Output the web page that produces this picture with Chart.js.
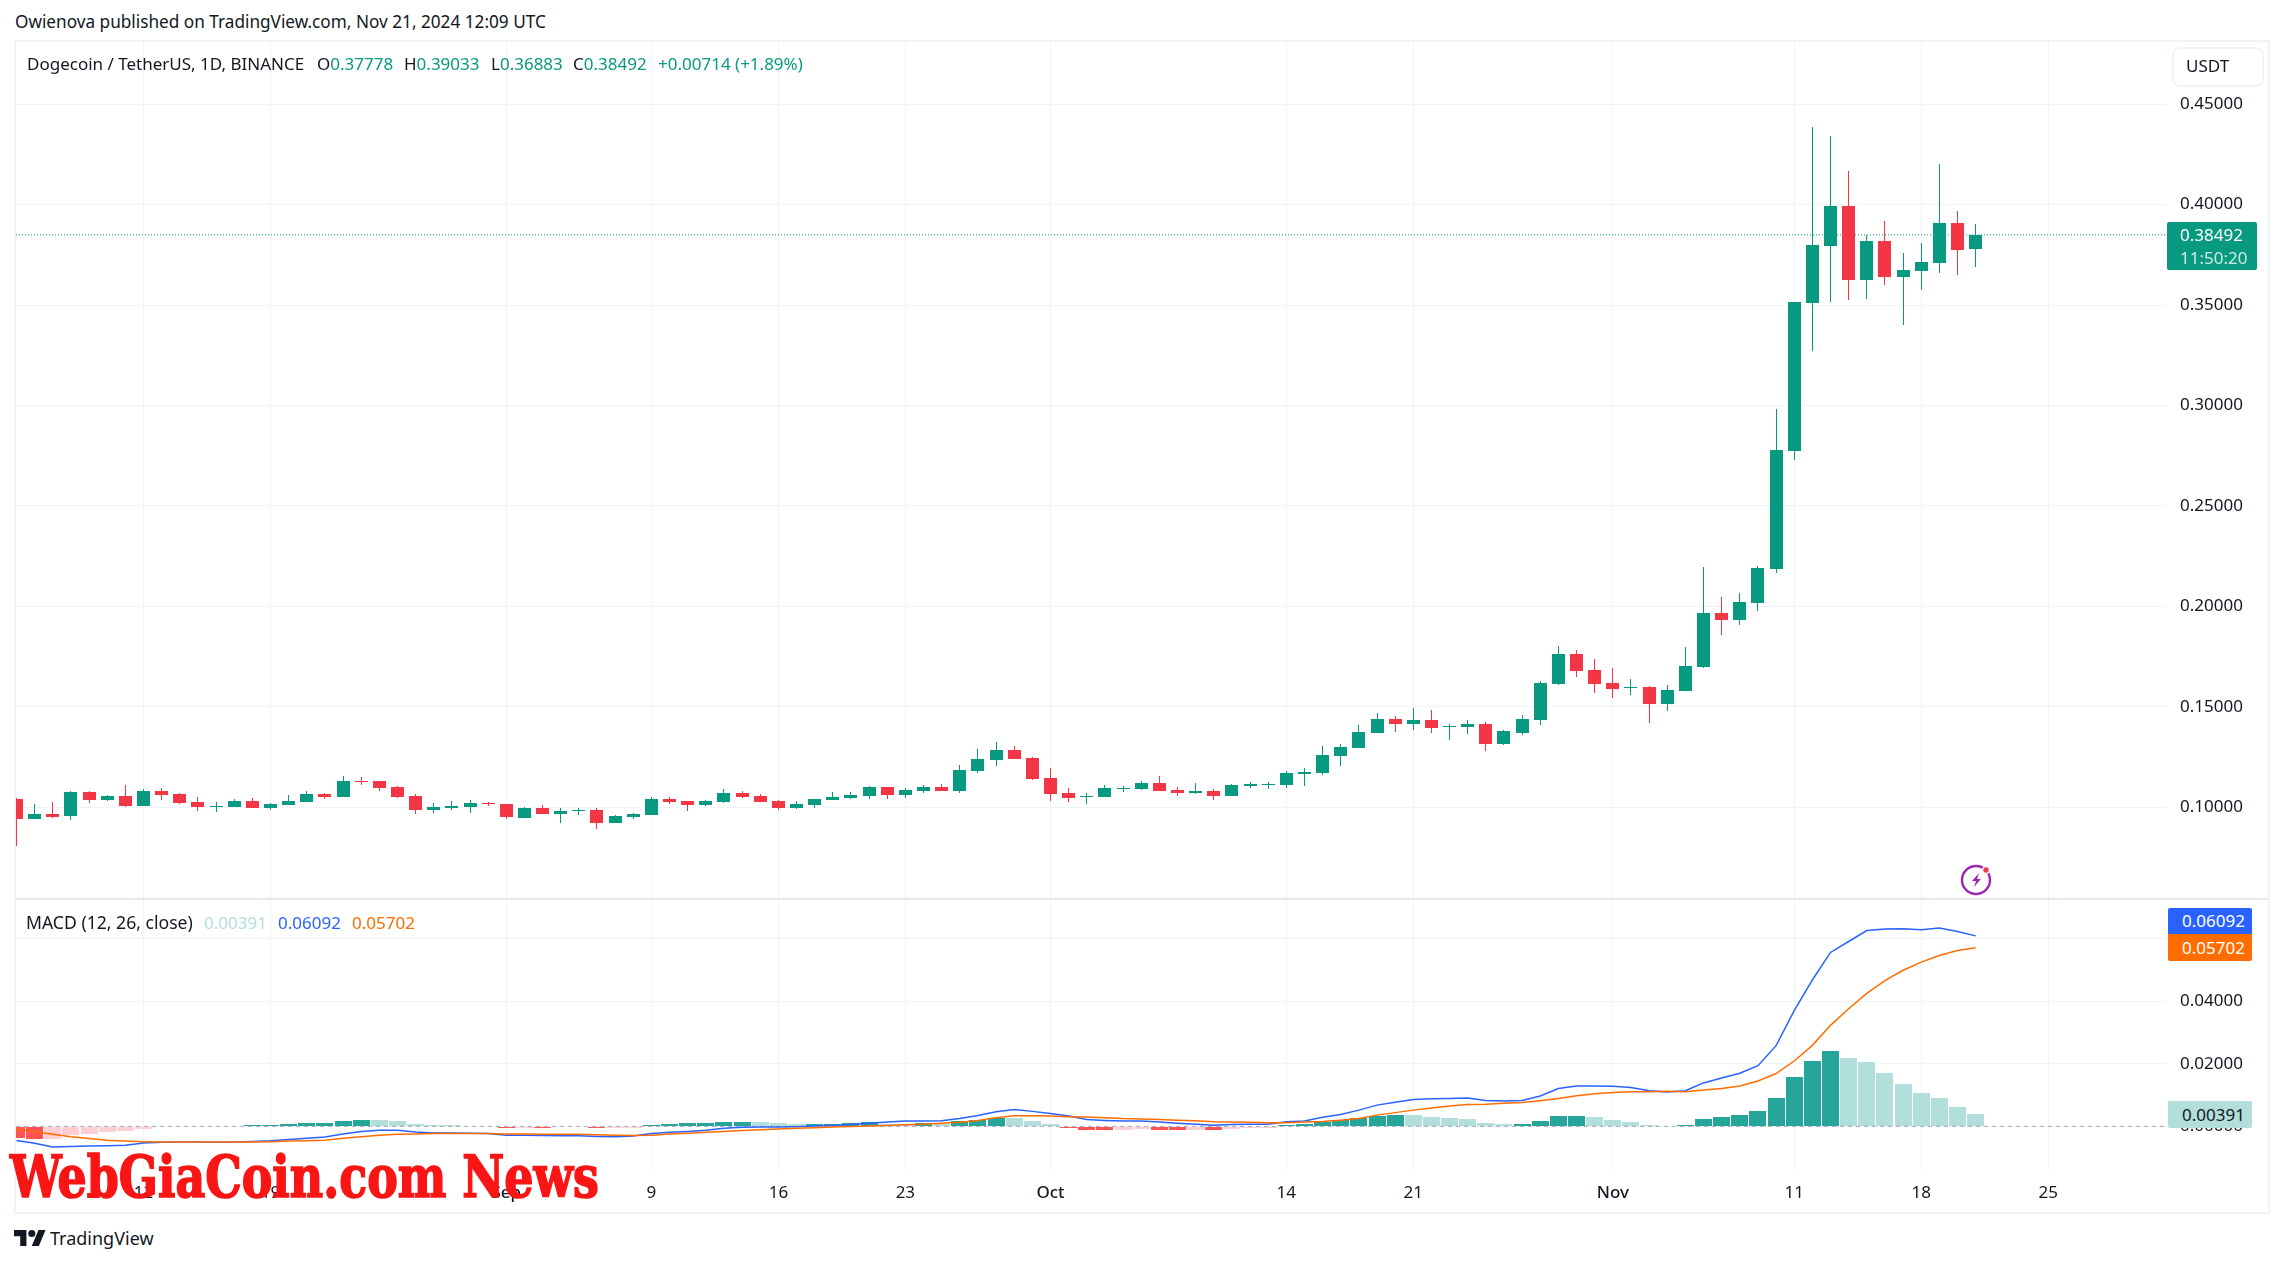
<!DOCTYPE html>
<html>
<head>
<meta charset="utf-8">
<title>DOGE/USDT</title>
<script src="https://cdn.jsdelivr.net/npm/chart.js@4/dist/chart.umd.js"></script>
<style>
  html, body { margin: 0; background: #fff; }
  body { width: 2283px; height: 1265px; position: relative; overflow: hidden; font-family: "Noto Sans", sans-serif; color: #131722; }
  canvas { position: absolute; left: 16px; }
  .abs { position: absolute; white-space: nowrap; line-height: 1; }
  #frame { position: absolute; left: 14px; top: 40px; width: 2252px; height: 1170px; border: 2px solid #f0f3fa; }
  #split { position: absolute; left: 16px; top: 898px; width: 2252px; height: 2px; background: #e6e8ee; }
  .badge { position: absolute; left: 2168px; width: 84px; color: #fff; font-size: 17px; text-align: right; box-sizing: border-box; padding-right: 7px; }
  .green { color: #089981; }
</style>
</head>
<body>
<canvas id="priceChart" width="2251" height="857" style="top:41px"></canvas>
<canvas id="macdChart" width="2251" height="312" style="top:900px"></canvas>
<div id="frame"></div>
<div id="split"></div>

<div class="abs" style="left:15px;top:13px;font-size:17.2px">Owienova published on TradingView.com, Nov 21, 2024 12:09 UTC</div>
<div class="abs" style="left:27px;top:55px;font-size:17px">Dogecoin / TetherUS, 1D, BINANCE</div>
<div class="abs" style="left:317px;top:55px;font-size:17px">O<span class="green">0.37778</span></div>
<div class="abs" style="left:404px;top:55px;font-size:17px">H<span class="green">0.39033</span></div>
<div class="abs" style="left:491px;top:55px;font-size:17px">L<span class="green">0.36883</span></div>
<div class="abs" style="left:573px;top:55px;font-size:17px">C<span class="green">0.38492</span></div>
<div class="abs green" style="left:658px;top:55px;font-size:17px">+0.00714 (+1.89%)</div>

<div class="abs" style="left:2172px;top:47px;width:88px;height:36px;border:2px solid #f0f3fa;border-radius:8px"></div>
<div class="abs" style="left:2186px;top:57px;font-size:17px">USDT</div>

<div class="abs" style="left:2167px;top:222px;width:90px;height:48px;background:#089981;border-radius:2px"></div>
<div class="abs" style="left:2180px;top:226px;font-size:17px;color:#fff">0.38492</div>
<div class="abs" style="left:2180px;top:249px;font-size:17px;color:#cfeae5">11:50:20</div>

<div class="abs" style="left:26px;top:914px;font-size:17.6px">MACD (12, 26, close)</div>
<div class="abs" style="left:204px;top:914px;font-size:17px;color:#b2dfdb">0.00391</div>
<div class="abs" style="left:278px;top:914px;font-size:17px;color:#2962ff">0.06092</div>
<div class="abs" style="left:352px;top:914px;font-size:17px;color:#ff6d00">0.05702</div>

<div class="badge" style="top:908px;height:26px;line-height:26px;background:#2962ff;border-radius:2px 2px 0 0">0.06092</div>
<div class="badge" style="top:934px;height:27px;line-height:27px;background:#ff6d00;border-radius:0 0 2px 2px">0.05702</div>
<div class="badge" style="top:1101px;height:27px;line-height:27px;background:#b2dfdb;color:#131722;border-radius:2px">0.00391</div>

<svg class="abs" style="left:1960px;top:863px" width="34" height="34" viewBox="0 0 34 34">
  <circle cx="16" cy="17" r="14" fill="none" stroke="#9c27b0" stroke-width="2.4"/>
  <path d="M19 10l-7 8h4l-2 6 7-8h-4z" fill="#9c27b0"/>
  <circle cx="26" cy="7" r="3.4" fill="#f23645" stroke="#fff" stroke-width="1.4"/>
</svg>

<svg class="abs" style="left:14px;top:1230px" width="32" height="16" viewBox="0 4 36 18">
  <path d="M14 22H7V11H0V4h14v18zM28 22h-8l7.5-18h8L28 22z" fill="#131722"/>
  <circle cx="20" cy="8" r="4" fill="#131722"/>
</svg>
<div class="abs" style="left:50px;top:1229px;font-size:18px;color:#131722">TradingView</div>

<div class="abs" id="stamp" style="left:10px;top:1148px;font-family:'DejaVu Serif Condensed','DejaVu Serif',serif;font-weight:700;font-size:58px;color:#fa1515;-webkit-text-stroke:1.6px #fa1515;transform-origin:0 0;transform:scaleX(0.88)">WebGiaCoin.com News</div>

<script>
// daily candles, 2024-08-05 .. 2024-11-21, index 0 = Aug 5
const opens = [
  .1041,.0942,.0967,.0957,.1076,.1036,.1056,.1007,.1081,.1066,.1026,.1002,.1002,.1031,.0997,.1012,.1026,.1066,.1051,.1130,
  .1130,.1101,.1056,.0987,.0997,.1002,.1021,.1017,.0947,.0997,.0967,.0982,.0987,.0922,.0952,.0962,.1041,.1031,.1012,.1026,
  .1071,.1056,.1031,.0997,.1012,.1036,.1046,.1056,.1101,.1061,.1081,.1101,.1081,.1180,.1234,.1284,.1244,.1145,.1071,.1051,
  .1051,.1091,.1091,.1120,.1086,.1071,.1081,.1056,.1106,.1111,.1111,.1165,.1170,.1254,.1294,.1368,.1442,.1417,.1437,.1398,
  .1398,.1417,.1314,.1372,.1437,.1612,.1762,.1682,.1617,.1592,.1597,.1512,.1577,.1697,.1966,.1931,.2015,.2185,.2773,.3510,
  .3793,.3992,.3623,.3819,.3639,.3668,.3709,.3908,.37778]
const highs = [
  .1046,.1017,.1026,.1081,.1081,.1061,.1111,.1091,.1096,.1071,.1051,.1026,.1041,.1046,.1021,.1061,.1081,.1071,.1155,.1150,
  .1130,.1106,.1066,.1021,.1031,.1036,.1026,.1017,.1002,.1012,.0997,.0997,.0997,.0962,.0972,.1051,.1051,.1031,.1036,.1091,
  .1081,.1066,.1036,.1031,.1041,.1076,.1076,.1106,.1101,.1096,.1111,.1116,.1210,.1289,.1323,.1304,.1249,.1195,.1096,.1071,
  .1111,.1106,.1130,.1155,.1101,.1120,.1091,.1116,.1125,.1125,.1180,.1195,.1304,.1314,.1408,.1472,.1457,.1497,.1487,.1413,
  .1437,.1427,.1383,.1462,.1627,.1802,.1782,.1737,.1692,.1637,.1602,.1607,.1797,.2197,.2046,.2069,.2201,.2982,.3513,.4386,
  .4340,.4167,.3851,.3918,.3759,.3808,.4201,.3968,.39033]
const lows = [
  .0809,.0942,.0947,.0937,.1021,.1031,.1002,.1007,.1036,.1017,.0982,.0977,.1002,.0997,.0987,.1012,.1026,.1041,.1051,.1111,
  .1081,.1046,.0967,.0972,.0987,.0972,.1007,.0942,.0947,.0967,.0922,.0962,.0893,.0922,.0942,.0962,.1017,.0982,.1007,.1021,
  .1046,.1026,.0987,.0992,.0997,.1036,.1041,.1041,.1041,.1046,.1071,.1081,.1071,.1170,.1205,.1239,.1135,.1031,.1026,.1017,
  .1051,.1076,.1086,.1081,.1056,.1066,.1036,.1056,.1096,.1091,.1096,.1106,.1160,.1205,.1294,.1368,.1373,.1383,.1368,.1333,
  .1363,.1279,.1309,.1362,.1412,.1607,.1647,.1567,.1542,.1557,.1422,.1482,.1577,.1692,.1858,.1907,.1976,.2166,.2728,.3270,
  .3513,.3524,.3529,.3599,.3400,.3573,.3659,.3649,.36883]
const closes = [
  .0942,.0967,.0952,.1076,.1036,.1056,.1007,.1081,.1061,.1021,.1002,.1007,.1031,.0997,.1017,.1031,.1066,.1051,.1130,.1125,
  .1096,.1051,.0987,.1002,.1007,.1021,.1017,.0952,.0997,.0967,.0982,.0987,.0922,.0957,.0967,.1041,.1026,.1012,.1031,.1071,
  .1051,.1026,.0997,.1017,.1041,.1051,.1061,.1101,.1061,.1086,.1101,.1081,.1185,.1239,.1284,.1239,.1140,.1066,.1046,.1056,
  .1096,.1096,.1120,.1081,.1071,.1081,.1056,.1111,.1116,.1116,.1170,.1175,.1259,.1299,.1373,.1442,.1417,.1437,.1393,.1403,
  .1417,.1314,.1378,.1442,.1617,.1762,.1677,.1612,.1587,.1597,.1512,.1582,.1702,.1967,.1931,.2021,.2190,.2778,.3513,.3798,
  .3992,.3623,.3819,.3639,.3673,.3714,.3908,.3772,.38492]

// MACD pane
const histValues = [
  -.0038,-.0040,-.0040,-.0028,-.0024,-.0018,-.0015,-.0008,-.0002,-.0002,-.0002,-.0002,.0001,.0004,.0004,.0007,.0011,.0011,.0017,.0020,
  .0020,.0017,.0007,.0004,.0004,.0001,.0001,-.0005,-.0005,-.0005,-.0002,-.0002,-.0005,-.0005,-.0005,.0004,.0007,.0011,.0011,.0014,
  .0014,.0014,.0011,.0007,.0007,.0007,.0011,.0014,.0007,.0007,.0010,.0007,.0017,.0020,.0027,.0027,.0017,.0007,-.0005,-.0012,
  -.0012,-.0012,-.0008,-.0012,-.0012,-.0012,-.0012,-.0008,-.0005,-.0005,.0004,.0007,.0014,.0020,.0027,.0033,.0036,.0036,.0030,.0027,
  .0023,.0011,.0007,.0007,.0017,.0033,.0033,.0030,.0020,.0014,.0004,-.0002,.0004,.0023,.0030,.0036,.0049,.0090,.0157,.0208,
  .0240,.0218,.0205,.0170,.0135,.0106,.0090,.0062,.0039]
// 1 = strong bar, 0 = pale bar
const histTones = [
  1,1,0,0,0,0,0,0,0,0,1,0,1,1,1,1,1,1,1,1,
  0,0,0,0,0,0,0,1,0,1,0,0,1,0,0,1,1,1,1,1,
  1,0,0,0,1,1,1,1,0,0,1,0,1,1,1,0,0,0,1,1,
  1,0,0,1,1,0,1,0,0,0,1,1,1,1,1,1,1,0,0,0,
  0,0,0,1,1,1,1,0,0,0,0,1,1,1,1,1,1,1,1,1,
  1,0,0,0,0,0,0,0,0]
const macdLine = [
  -.0045,-.0054,-.0066,-.0064,-.0063,-.0062,-.0060,-.0053,-.0051,-.0050,-.0050,-.0051,-.0050,-.0048,-.0046,-.0042,-.0038,-.0034,-.0024,-.0016,
  -.0012,-.0012,-.0018,-.0021,-.0021,-.0022,-.0023,-.0028,-.0028,-.0029,-.0030,-.0030,-.0032,-.0033,-.0031,-.0023,-.0019,-.0016,-.0012,-.0006,
  -.0003,-.0002,-.0002,-.0001,.0001,.0003,.0006,.0010,.0014,.0017,.0017,.0018,.0025,.0035,.0047,.0054,.0048,.0041,.0033,.0022,
  .0019,.0017,.0017,.0014,.0010,.0007,.0004,.0006,.0007,.0007,.0015,.0017,.0029,.0038,.0052,.0068,.0077,.0086,.0088,.0089,
  .0091,.0083,.0081,.0083,.0097,.0121,.0129,.0129,.0128,.0124,.0114,.0110,.0114,.0139,.0155,.0170,.0194,.0258,.0370,.0468,
  .0556,.0591,.0626,.0631,.0632,.0629,.0634,.0623,.0609]
const signalLine = [
  -.0008,-.0017,-.0025,-.0033,-.0039,-.0044,-.0047,-.0049,-.0050,-.0050,-.0050,-.0050,-.0050,-.0050,-.0049,-.0047,-.0046,-.0044,-.0038,-.0033,
  -.0028,-.0025,-.0024,-.0023,-.0023,-.0023,-.0023,-.0024,-.0024,-.0025,-.0025,-.0025,-.0027,-.0028,-.0029,-.0028,-.0024,-.0022,-.0019,-.0016,
  -.0013,-.0011,-.0008,-.0006,-.0004,-.0002,0,.0001,.0003,.0005,.0007,.0010,.0013,.0019,.0028,.0034,.0034,.0033,.0031,.0030,
  .0028,.0025,.0024,.0022,.0020,.0018,.0015,.0014,.0013,.0012,.0012,.0014,.0016,.0020,.0025,.0036,.0044,.0052,.0059,.0065,
  .0070,.0071,.0074,.0076,.0082,.0089,.0098,.0104,.0108,.0111,.0111,.0112,.0111,.0116,.0121,.0129,.0145,.0169,.0209,.0259,
  .0323,.0376,.0425,.0466,.0499,.0525,.0546,.0562,.0571]

// axes
const tickDays = [7, 14, 27, 35, 42, 49, 57, 70, 77, 88, 98, 105, 112]
const tickLabels = ["12", "19", "Sep", "9", "16", "23", "Oct", "14", "21", "Nov", "11", "18", "25"]
const priceTicks = [0.10, 0.15, 0.20, 0.25, 0.30, 0.35, 0.40, 0.45]
const macdTicks = [0, 0.02, 0.04, 0.06]
const lastClose = 0.38492

const upColor = "#089981"
const downColor = "#f23645"
const gridColor = "#f0f3fa"
const textColor = "#131722"
const fontFamily = "'Noto Sans', sans-serif"
const xMin = -0.028
const xMax = 118.55
const axisWidth = 100

const candleColors = closes.map((c, i) => (c >= opens[i] ? upColor : downColor))
const histColors = histValues.map((v, i) => {
  if (v >= 0) return histTones[i] ? "#26a69a" : "#b2dfdb"
  return histTones[i] ? "#ff5252" : "#ffcdd2"
})

// snap bars to whole pixels so the wicks stay crisp
const snapBars = {
  id: "snapBars",
  beforeDatasetDraw(chart, args) {
    if (args.meta.type !== "bar") return
    args.meta.data.forEach((el) => {
      el.x = Math.floor(el.x) + 0.5
      el.y = Math.round(el.y)
      el.base = Math.round(el.base)
    })
  }
}

// the label overhang would otherwise inset the plot area
const noPadding = (scale) => {
  scale.paddingTop = 0
  scale.paddingBottom = 0
  scale.paddingLeft = 0
  scale.paddingRight = 0
}

const xScale = (showLabels) => ({
  type: "linear",
  min: xMin,
  max: xMax,
  offset: false,
  afterBuildTicks: (scale) => {
    scale.ticks = tickDays.map((d) => ({ value: d }))
  },
  afterFit: (scale) => {
    scale.height = showLabels ? 42 : 0
    noPadding(scale)
  },
  border: { display: false },
  grid: { color: gridColor, drawTicks: false, offset: false },
  ticks: {
    display: showLabels,
    autoSkip: false,
    maxRotation: 0,
    padding: 13,
    color: textColor,
    callback: (v) => tickLabels[tickDays.indexOf(v)],
    font: (ctx) => ({
      family: fontFamily,
      size: 17,
      weight: ctx.tick && isNaN(Number(ctx.tick.label)) ? "500" : "400"
    })
  }
})

const yScale = (min, max, values, digits) => ({
  position: "right",
  min,
  max,
  afterBuildTicks: (scale) => {
    scale.ticks = values.map((v) => ({ value: v }))
  },
  afterFit: (scale) => {
    scale.width = axisWidth
    noPadding(scale)
  },
  border: { display: false },
  grid: { color: gridColor, drawTicks: false },
  ticks: {
    padding: 13,
    color: textColor,
    font: { family: fontFamily, size: 17 },
    callback: (v) => v.toFixed(digits)
  }
})

const baseOptions = {
  responsive: false,
  animation: false,
  events: [],
  layout: { padding: 0 },
  plugins: { legend: { display: false }, tooltip: { enabled: false } }
}

new Chart(document.getElementById("priceChart"), {
  type: "bar",
  data: {
    datasets: [
      {
        // last price line
        type: "line",
        data: [{ x: xMin, y: lastClose }, { x: xMax, y: lastClose }],
        borderColor: upColor,
        borderWidth: 1,
        borderDash: [1, 2],
        pointRadius: 0,
        order: 3
      },
      {
        // wicks
        data: highs.map((h, i) => ({ x: i, y: [lows[i], h] })),
        backgroundColor: candleColors,
        barThickness: 1,
        grouped: false,
        inflateAmount: 0,
        order: 2
      },
      {
        // bodies
        data: opens.map((o, i) => ({ x: i, y: [o, closes[i]] })),
        backgroundColor: candleColors,
        barThickness: 13,
        grouped: false,
        inflateAmount: 0,
        order: 1
      }
    ]
  },
  options: {
    ...baseOptions,
    scales: {
      x: xScale(false),
      y: yScale(0.0549, 0.4814, priceTicks, 5)
    }
  },
  plugins: [snapBars]
})

new Chart(document.getElementById("macdChart"), {
  type: "bar",
  data: {
    datasets: [
      {
        data: histValues.map((v, i) => ({ x: i, y: v })),
        backgroundColor: histColors,
        barThickness: 17,
        grouped: false,
        inflateAmount: 0,
        order: 4
      },
      {
        // zero line
        type: "line",
        data: [{ x: xMin, y: 0 }, { x: xMax, y: 0 }],
        borderColor: "rgba(120, 123, 134, 0.6)",
        borderWidth: 1,
        borderDash: [4, 4],
        pointRadius: 0,
        order: 3
      },
      {
        type: "line",
        data: macdLine.map((v, i) => ({ x: i, y: v })),
        borderColor: "#2962ff",
        borderWidth: 1.5,
        pointRadius: 0,
        tension: 0,
        order: 2
      },
      {
        type: "line",
        data: signalLine.map((v, i) => ({ x: i, y: v })),
        borderColor: "#ff6d00",
        borderWidth: 1.5,
        pointRadius: 0,
        tension: 0,
        order: 1
      }
    ]
  },
  options: {
    ...baseOptions,
    scales: {
      x: xScale(true),
      y: yScale(-0.01394, 0.07237, macdTicks, 5)
    }
  },
  plugins: [snapBars]
})
</script>
</body>
</html>
